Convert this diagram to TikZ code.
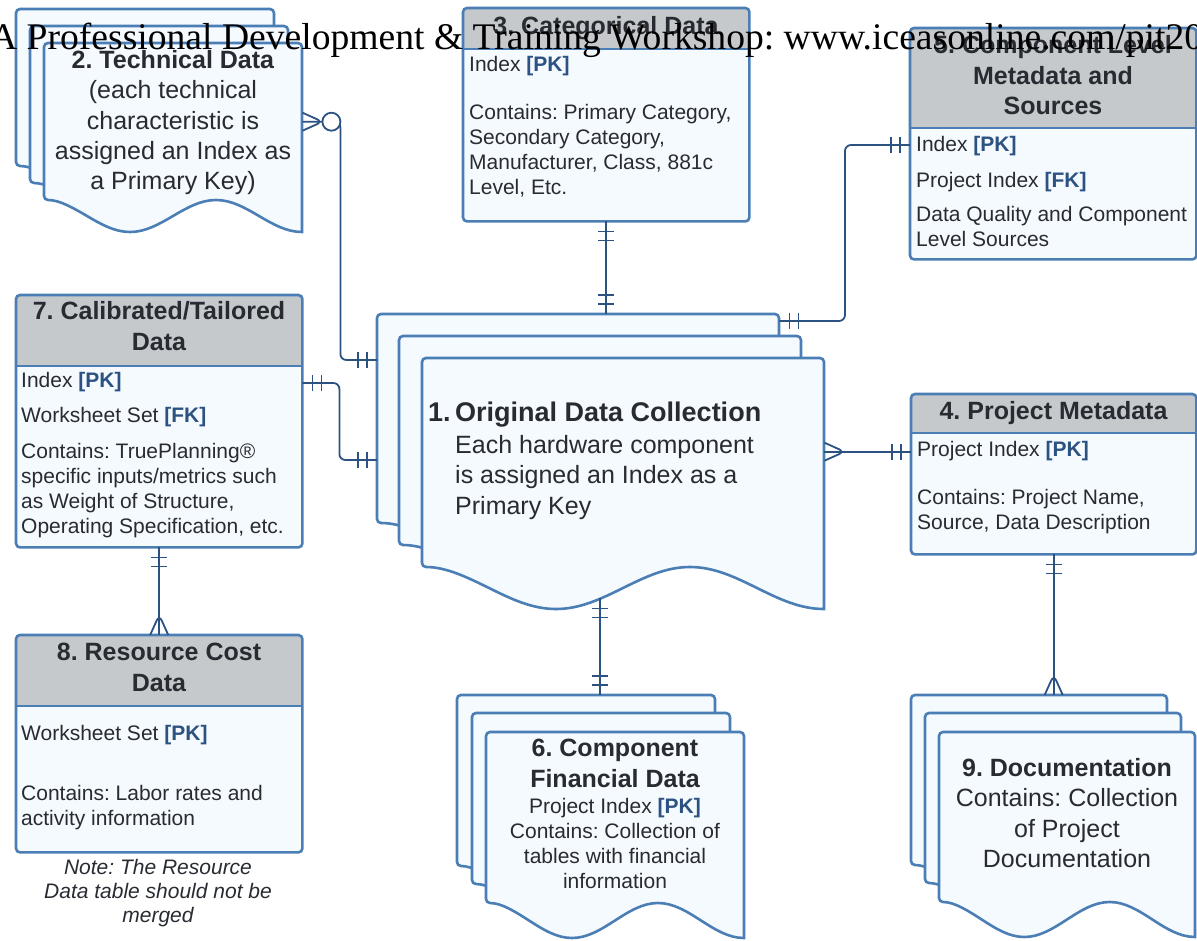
\documentclass[tikz,border=0pt]{standalone}
\usepackage{fontspec}
\setmainfont{Liberation Sans}
\newfontfamily\bannerfont{Liberation Serif}
\usetikzlibrary{decorations.markings}
\frenchspacing

\definecolor{edgeblue}{RGB}{74,126,180}
\definecolor{linkblue}{RGB}{44,82,130}
\definecolor{hdrgray}{RGB}{198,201,204}
\definecolor{paleblue}{RGB}{245,250,255}
\definecolor{inkgray}{RGB}{40,44,50}

\newcommand{\bodysize}{\fontsize{21}{25}\selectfont}
\newcommand{\docsize}{\fontsize{25}{30.3}\selectfont}
\newcommand{\hdrsize}{\fontsize{25}{30.5}\selectfont\bfseries}
\newcommand{\pk}[1]{\textbf{\color{linkblue}[#1]}}

\tikzset{
  tablebox/.style={fill=paleblue, rounded corners=4pt, inner sep=0pt},
  sheet/.style={draw=edgeblue, fill=paleblue, line width=2.6pt},
  hdr/.style={font=\hdrsize, text=inkgray, anchor=base, align=center, inner sep=0pt},
  rowtxt/.style={font=\bodysize, text=inkgray, anchor=base west, align=left, inner sep=0pt},
  doctxt/.style={font=\docsize, text=inkgray, anchor=base, align=center, inner sep=0pt},
  link/.style={linkblue, line width=1.8pt, rounded corners=6pt},
  one start/.style={postaction={decorate, decoration={markings,
      mark=at position 10pt with {\draw[link] (0pt,-8pt) -- (0pt,8pt);},
      mark=at position 19pt with {\draw[link] (0pt,-8pt) -- (0pt,8pt);}}}},
  one end/.style={postaction={decorate, decoration={markings,
      mark=at position -10pt with {\draw[link] (0pt,-8pt) -- (0pt,8pt);},
      mark=at position -19pt with {\draw[link] (0pt,-8pt) -- (0pt,8pt);}}}},
  many start/.style={postaction={decorate, decoration={markings,
      mark=at position 0.1pt with {\draw[link] (0pt,9pt) -- (20pt,0pt) -- (0pt,-9pt);}}}},
  many end/.style={postaction={decorate, decoration={markings,
      mark=at position -0.1pt with {\draw[link] (0pt,9pt) -- (-20pt,0pt) -- (0pt,-9pt);}}}},
  zero start/.style={postaction={decorate, decoration={markings,
      mark=at position 29pt with {\draw[link, fill=white] (0pt,0pt) circle (9pt);}}}}
}

% table: name, x, y, width, header height, height
\newcommand{\erdtable}[6]{%
  \node[tablebox, minimum width=#4pt, minimum height=#6pt, anchor=north west] (#1) at (#2,#3) {};
  \begin{scope}
    \clip[rounded corners=4pt] (#2,#3) rectangle ++(#4,#6);
    \fill[hdrgray] (#2,#3) rectangle ++(#4,#5);
  \end{scope}
  \draw[edgeblue, line width=2.6pt] (#2,#3+#5) -- ++(#4,0);
  \draw[edgeblue, line width=2.6pt, rounded corners=4pt] (#1.north west) rectangle (#1.south east);
}

% document sheet: name, x, y, width, height, wave depth
\newcommand{\docsheet}[6]{%
  \filldraw[sheet] (#2,#3+#5) cos (#2+#4/6,#3+#5+#6/2) sin (#2+#4/3,#3+#5+#6)
    cos (#2+#4/2,#3+#5+#6/2) sin (#2+#4*2/3,#3+#5) cos (#2+#4*5/6,#3+#5+#6/2)
    sin (#2+#4,#3+#5+#6) [rounded corners=4pt] -- (#2+#4,#3) -- (#2,#3) -- cycle;
  \node[inner sep=0pt, minimum width=#4pt, minimum height=#5pt, anchor=north west] (#1) at (#2,#3) {};
}

\begin{document}
\begin{tikzpicture}[x=1pt, y=-1pt]
\useasboundingbox (0,0) rectangle (1197,940);

% document stacks
\docsheet{tech1}{16}{9}{258}{157}{32}
\docsheet{tech2}{30}{26}{258}{157}{32}
\docsheet{tech3}{44}{43}{258}{157}{32}
\docsheet{odc1}{377}{314}{402}{209}{42}
\docsheet{odc2}{399}{336}{402}{209}{42}
\docsheet{odc3}{422}{358}{402}{209}{42}
\docsheet{fin1}{457}{695}{258}{171}{35}
\docsheet{fin2}{472}{713}{258}{171}{35}
\docsheet{fin3}{486}{732}{258}{171}{35}
\docsheet{docu1}{911}{695}{256}{170}{35}
\docsheet{docu2}{925}{713}{256}{170}{35}
\docsheet{docu3}{939}{732}{256}{170}{35}

% tables
\erdtable{cat}{463}{8}{286}{41}{213}
\erdtable{lvl}{910}{28}{286}{100}{231}
\erdtable{cal}{16}{295}{286}{71}{252}
\erdtable{proj}{911}{394}{285}{39}{160}
\erdtable{res}{16}{635}{286}{71}{217}

% table texts (multi-line nodes sit on their last baseline)
\node[hdr] (catH) at (606,34.5) {3. Categorical Data};
\node[rowtxt] (catB) at (469,194) {Index \pk{PK}\\[23pt] Contains: Primary Category,\\ Secondary Category,\\ Manufacturer, Class, 881c\\ Level, Etc.};
\node[hdr] (lvlH) at (1053,114.5) {5. Component Level\\ Metadata and\\ Sources};
\node[rowtxt] (lvlB) at (916,246) {Index \pk{PK}\\[11pt] Project Index \pk{FK}\\[9pt] Data Quality and Component\\ Level Sources};
\node[hdr] (calH) at (159,350) {7. Calibrated/Tailored\\ Data};
\node[rowtxt] (calB) at (21,533) {Index \pk{PK}\\[10pt] Worksheet Set \pk{FK}\\[11pt] Contains: TruePlanning®\\ specific inputs/metrics such\\ as Weight of Structure,\\ Operating Specification, etc.};
\node[hdr] (projH) at (1053.5,419.5) {4. Project Metadata};
\node[rowtxt] (projB) at (917,529) {Project Index \pk{PK}\\[23pt] Contains: Project Name,\\ Source, Data Description};
\node[hdr] (resH) at (159,691) {8. Resource Cost\\ Data};
\node[rowtxt] (resB) at (21,825) {Worksheet Set \pk{PK}\\[35pt] Contains: Labor rates and\\ activity information};
\node[font=\fontsize{21}{24}\selectfont\itshape, text=inkgray, anchor=base, align=center, inner sep=0pt] (resN) at (158,922) {Note: The Resource\\ Data table should not be\\ merged};

% document texts
\node[doctxt] (techT) at (173,189.7) {\textbf{2. Technical Data}\\ (each technical\\ characteristic is\\ assigned an Index as\\ a Primary Key)};
\node[font=\fontsize{27}{32}\selectfont\bfseries, text=inkgray, anchor=base west, inner sep=0pt] (odcN) at (428,421.5) {1.};
\node[font=\fontsize{27}{32}\selectfont\bfseries, text=inkgray, anchor=base west, inner sep=0pt] (odcH) at (455,421.5) {Original Data Collection};
\node[doctxt, anchor=base west, align=left] (odcT) at (455,514.1) {Each hardware component\\ is assigned an Index as a\\ Primary Key};
\node[hdr] (finH) at (615,787) {6. Component\\ Financial Data};
\node[font=\bodysize, text=inkgray, anchor=base, align=center, inner sep=0pt] (finT) at (615,888) {Project Index \pk{PK}\\ Contains: Collection of\\ tables with financial\\ information};
\node[doctxt] (docuT) at (1067,867.4) {\textbf{9. Documentation}\\ Contains: Collection\\ of Project\\ Documentation};

% connectors
\coordinate (odcR) at ([yshift=11pt]odc3.east);
\coordinate (odcB) at ([xshift=-23pt,yshift=-31pt]odc3.south);
\draw[link, many start, zero start, one end] (tech3.east) -- ++(38,0) |- ([yshift=-46pt]odc1.north west);
\draw[link, one start, one end] ([yshift=-88pt]cal.north east) -- ++(37,0) |- ([yshift=-146pt]odc1.north west);
\draw[link, one start, one end] (cat.south) -- (cat.south |- odc1.north);
\draw[link, one start, one end] ([yshift=-117pt]lvl.north west) -- ++(-65,0) |- ([yshift=-7pt]odc1.north east);
\draw[link, many start, one end] (odcR) -- (odcR -| proj.west);
\draw[link, one start, one end] (odcB) -- (odcB |- fin1.north);
\draw[link, one start, many end] (proj.south) -- (proj.south |- docu1.north);
\draw[link, one start, many end] (cal.south) -- (cal.south |- res.north);

% banner over everything
\node[font=\bannerfont\fontsize{37.6}{40}\selectfont, anchor=base west, inner sep=0pt] (banner) at (-10,49) {A Professional Development \& Training Workshop: www.iceasonline.com/pit20};
\end{tikzpicture}
\end{document}
